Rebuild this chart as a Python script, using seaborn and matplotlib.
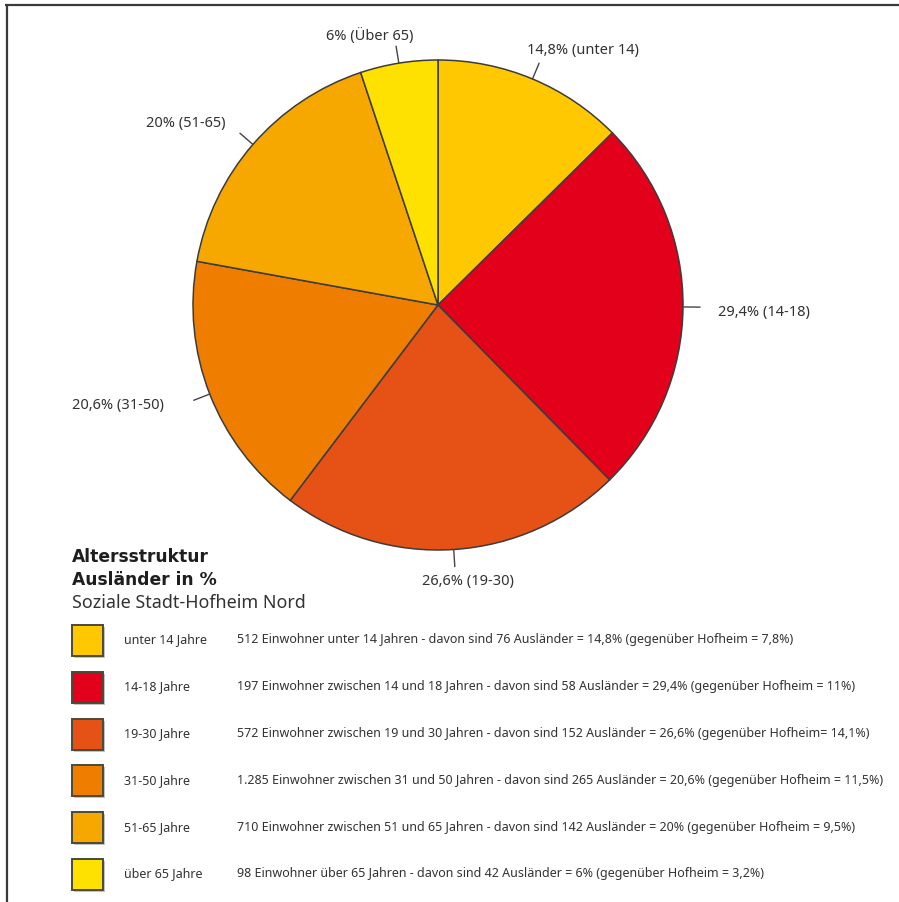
import numpy as np
import matplotlib
matplotlib.use("Agg")
import matplotlib.pyplot as plt
from matplotlib.patches import Rectangle
import seaborn as sns

# ---- data ----
categories = ["unter 14", "14-18", "19-30", "31-50", "51-65", "Über 65"]
percent = [14.8, 29.4, 26.6, 20.6, 20.0, 6.0]
pie_labels = ["14,8% (unter 14)", "29,4% (14-18)", "26,6% (19-30)",
              "20,6% (31-50)", "20% (51-65)", "6% (Über 65)"]
legend_names = ["unter 14 Jahre", "14-18 Jahre", "19-30 Jahre",
                "31-50 Jahre", "51-65 Jahre", "über 65 Jahre"]
legend_texts = [
    "512 Einwohner unter 14 Jahren - davon sind 76 Ausländer = 14,8% (gegenüber Hofheim = 7,8%)",
    "197 Einwohner zwischen 14 und 18 Jahren - davon sind 58 Ausländer = 29,4% (gegenüber Hofheim = 11%)",
    "572 Einwohner zwischen 19 und 30 Jahren - davon sind 152 Ausländer = 26,6% (gegenüber Hofheim= 14,1%)",
    "1.285 Einwohner zwischen 31 und 50 Jahren - davon sind 265 Ausländer = 20,6% (gegenüber Hofheim = 11,5%)",
    "710 Einwohner zwischen 51 und 65 Jahren - davon sind 142 Ausländer = 20% (gegenüber Hofheim = 9,5%)",
    "98 Einwohner über 65 Jahren - davon sind 42 Ausländer = 6% (gegenüber Hofheim = 3,2%)",
]
colors = ["#FFC800", "#E2001A", "#E65115", "#EE7D00", "#F6A800", "#FFE100"]

# ---- style ----
sns.set_theme(style="white")
plt.rcParams["font.family"] = ["Noto Sans", "DejaVu Sans"]
TXT = "#333333"

W, H = 899, 903
fig = plt.figure(figsize=(W / 100, H / 100), dpi=100)
fig.patch.set_facecolor("white")

# overlay axes in pixel coordinates (frame, title, legend)
ov = fig.add_axes([0, 0, 1, 1])
ov.set_xlim(0, W)
ov.set_ylim(H, 0)
ov.axis("off")
ov.patch.set_alpha(0)

# frame lines
ov.plot([5, W], [6, 6], color="#3a3a3a", lw=1.6, solid_capstyle="butt")
ov.plot([7, 7], [6, H], color="#3a3a3a", lw=1.6, solid_capstyle="butt")

# ---- pie ----
cx, cy, R = 438, 306, 245
pax = fig.add_axes([(cx - R) / W, 1 - (cy + R) / H, 2 * R / W, 2 * R / H])
wedges, _ = pax.pie(percent, colors=colors, startangle=90, counterclock=False,
                    wedgeprops=dict(edgecolor="#3c3c3c", linewidth=1.1))
pax.set_xlim(-1, 1)
pax.set_ylim(-1, 1)
pax.axis("off")

# label offsets (pixels) relative to the tick end: dx, dy, ha
offsets = [(44, 14, "center"), (18, -4, "left"), (13, -14, "center"),
           (-30, -4, "right"), (-14, 11, "right"), (-26, 11, "center")]
for w, lab, (dx, dy, ha) in zip(wedges, pie_labels, offsets):
    ang = np.deg2rad((w.theta1 + w.theta2) / 2)
    x0, y0 = np.cos(ang), np.sin(ang)
    pax.plot([x0 * 1.0, x0 * 1.07], [y0 * 1.0, y0 * 1.07],
             color="#444444", lw=1.0, clip_on=False)
    pax.annotate(lab, xy=(x0 * 1.07, y0 * 1.07), xytext=(dx, dy),
                 textcoords="offset pixels", ha=ha, va="center",
                 fontsize=10.5, color=TXT, annotation_clip=False)

# ---- title ----
ov.text(72, 557, "Altersstruktur", fontsize=12.3, fontweight="bold",
        family=["DejaVu Sans"], color="#1e1e1e", va="center", ha="left")
ov.text(72, 580, "Ausländer in %", fontsize=12.3, fontweight="bold",
        family=["DejaVu Sans"], color="#1e1e1e", va="center", ha="left")
ov.text(72, 603, "Soziale Stadt-Hofheim Nord", fontsize=12.9,
        color=TXT, va="center", ha="left")

# ---- legend ----
row0, step = 642, 46.8
for i, (c, nm, tx) in enumerate(zip(colors, legend_names, legend_texts)):
    yc = row0 + i * step
    ov.add_patch(Rectangle((74, yc - 14), 31, 31, facecolor="#9a9a9a",
                           edgecolor="none", alpha=0.6))
    ov.add_patch(Rectangle((72, yc - 16), 31, 31, facecolor=c,
                           edgecolor="#4a4a3a", linewidth=1.4))
    ov.text(124, yc - 2, nm, fontsize=9.0, color=TXT, va="center", ha="left")
    ov.text(237, yc - 2, tx, fontsize=9.0, color=TXT, va="center", ha="left")

fig.savefig("out.png", dpi=100, facecolor="white")
